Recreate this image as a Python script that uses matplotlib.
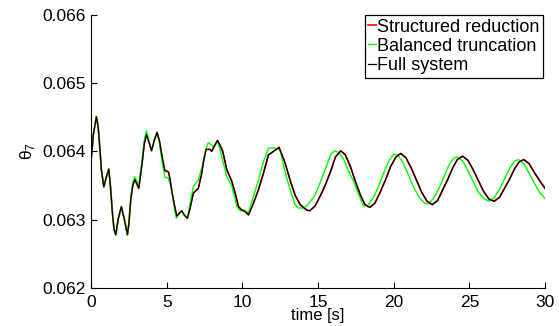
import matplotlib
matplotlib.use('Agg')
import matplotlib.pyplot as plt
from matplotlib.ticker import FormatStrFormatter

# values (time [s], theta_7)
t_full = [0.0, 0.15, 0.35, 0.47, 0.57, 0.68, 0.84, 1.0, 1.17, 1.28, 1.41, 1.52, 1.63, 1.8, 2.0,
          2.2, 2.4, 2.5, 2.62, 2.75, 2.89, 3.15, 3.37, 3.52, 3.66, 3.82, 3.99, 4.2, 4.36, 4.52,
          4.69, 4.87, 5.11, 5.2, 5.35, 5.48, 5.66, 5.85, 5.99, 6.15, 6.36, 6.55, 6.76, 7.09,
          7.31, 7.45, 7.6, 7.86, 7.97, 8.15, 8.35, 8.5, 8.7, 8.97, 9.3, 9.52, 9.74, 9.96, 10.18,
          10.4, 10.73, 11.06, 11.39, 11.72, 12.05, 12.42, 12.82, 13.15, 13.48, 13.81, 14.25,
          14.45, 14.8, 15.15, 15.5, 15.85, 16.15, 16.5, 16.8, 17.15, 17.45, 17.8, 18.1, 18.42,
          18.75, 19.1, 19.45, 19.8, 20.15, 20.46, 20.8, 21.15, 21.5, 21.85, 22.2, 22.55, 22.9,
          23.2, 23.55, 23.9, 24.2, 24.55, 24.9, 25.25, 25.6, 25.95, 26.3, 26.65, 27.0, 27.3,
          27.65, 28.0, 28.3, 28.6, 28.95, 29.3, 29.65, 30.0]
theta_full = [0.06387, 0.06425, 0.06451, 0.06435, 0.06407, 0.06373, 0.06348, 0.06362, 0.06374,
              0.06348, 0.06309, 0.06285, 0.06278, 0.06302, 0.06319, 0.06300, 0.06278, 0.06295,
              0.06329, 0.06350, 0.06359, 0.06346, 0.06383, 0.06412, 0.06425, 0.06414, 0.06401,
              0.06418, 0.06428, 0.06415, 0.06392, 0.06372, 0.06370, 0.06361, 0.06340, 0.06324,
              0.06305, 0.06310, 0.06313, 0.06307, 0.06302, 0.06318, 0.06339, 0.06346, 0.06368,
              0.06388, 0.06403, 0.06403, 0.06400, 0.06408, 0.06416, 0.06410, 0.06400, 0.06373,
              0.06356, 0.06339, 0.06319, 0.06314, 0.06312, 0.06307, 0.06324, 0.06344, 0.06368,
              0.06395, 0.06400, 0.06406, 0.06383, 0.06358, 0.06336, 0.06322, 0.06314, 0.06313,
              0.06320, 0.06335, 0.06352, 0.06372, 0.06392, 0.06401, 0.06395, 0.06377, 0.06357,
              0.06336, 0.06322, 0.06318, 0.06324, 0.06340, 0.06358, 0.06378, 0.06392, 0.06397,
              0.06391, 0.06376, 0.06358, 0.06340, 0.06327, 0.06322, 0.06328, 0.06342, 0.06358,
              0.06376, 0.06388, 0.06393, 0.06387, 0.06373, 0.06357, 0.06341, 0.06330, 0.06327,
              0.06333, 0.06345, 0.06359, 0.06375, 0.06385, 0.06388, 0.06382, 0.06369, 0.06357,
              0.06346]

# the structured reduction lies on top of the full system
t_struct = list(t_full)
theta_struct = list(theta_full)

t_bal = [0.0, 0.15, 0.35, 0.47, 0.57, 0.68, 0.84, 1.0, 1.17, 1.28, 1.41, 1.52, 1.63, 1.8, 2.0,
         2.2, 2.4, 2.5, 2.62, 2.75, 2.89, 3.15, 3.37, 3.52, 3.66, 3.82, 3.99, 4.2, 4.36, 4.52,
         4.69, 4.87, 5.11, 5.33, 5.48, 5.63, 5.8, 5.99, 6.15, 6.36, 6.55, 6.76, 7.09, 7.42,
         7.6, 7.75, 8.08, 8.35, 8.5, 8.63, 8.97, 9.3, 9.52, 9.63, 9.85, 10.1, 10.4, 10.73,
         11.06, 11.39, 11.72, 12.16, 12.49, 12.82, 13.15, 13.48, 13.7, 14.0, 14.25, 14.47, 14.8,
         15.15, 15.5, 15.85, 16.1, 16.4, 16.7, 17.0, 17.35, 17.7, 18.0, 18.3, 18.65, 19.0,
         19.35, 19.7, 20.0, 20.3, 20.65, 21.0, 21.35, 21.7, 22.0, 22.25, 22.6, 22.95, 23.3,
         23.65, 23.95, 24.2, 24.55, 24.9, 25.25, 25.6, 25.95, 26.3, 26.65, 27.0, 27.35, 27.7,
         28.0, 28.25, 28.6, 28.95, 29.3, 29.65, 30.0]
theta_bal = [0.06387, 0.06425, 0.06451, 0.06435, 0.06407, 0.06373, 0.06348, 0.06362, 0.06374,
             0.06348, 0.06309, 0.06285, 0.06277, 0.06302, 0.06319, 0.06300, 0.06277, 0.06296,
             0.06332, 0.06355, 0.06363, 0.06349, 0.06388, 0.06417, 0.06430, 0.06416, 0.06401,
             0.06418, 0.06428, 0.06412, 0.06385, 0.06362, 0.06361, 0.06344, 0.06320, 0.06302,
             0.06308, 0.06313, 0.06306, 0.06302, 0.06325, 0.06349, 0.06358, 0.06385, 0.06405,
             0.06413, 0.06407, 0.06414, 0.06405, 0.06392, 0.06363, 0.06349, 0.06330, 0.06319,
             0.06313, 0.06314, 0.06310, 0.06334, 0.06358, 0.06385, 0.06405, 0.06405, 0.06402,
             0.06370, 0.06344, 0.06322, 0.06317, 0.06317, 0.06320, 0.06326, 0.06336, 0.06355,
             0.06375, 0.06396, 0.06401, 0.06398, 0.06388, 0.06372, 0.06356, 0.06336, 0.06320,
             0.06321, 0.06332, 0.06349, 0.06369, 0.06387, 0.06396, 0.06394, 0.06382, 0.06364,
             0.06346, 0.06332, 0.06325, 0.06323, 0.06330, 0.06344, 0.06362, 0.06380, 0.06390,
             0.06392, 0.06386, 0.06372, 0.06356, 0.06340, 0.06331, 0.06327, 0.06332, 0.06345,
             0.06361, 0.06377, 0.06386, 0.06388, 0.06382, 0.06368, 0.06353, 0.06340, 0.06331]

x_ticks = [0, 5, 10, 15, 20, 25, 30]
y_ticks = [0.062, 0.063, 0.064, 0.065, 0.066]

plt.rcParams['font.family'] = ['Liberation Sans', 'DejaVu Sans']
plt.rcParams['mathtext.fontset'] = 'custom'
plt.rcParams['mathtext.rm'] = 'Liberation Sans'

fig = plt.figure(figsize=(5.59, 3.26), dpi=100)
ax = fig.add_axes([0.163, 0.117, 0.812, 0.837])

ax.plot(t_struct, theta_struct, color='#ff0000', lw=1.2, label='Structured reduction')
ax.plot(t_bal, theta_bal, color='#00ff00', lw=1.0, label='Balanced truncation')
ax.plot(t_full, theta_full, color='black', lw=0.9, label='Full system')

ax.set_xlim(0, 30)
ax.set_ylim(0.062, 0.066)
ax.set_xticks(x_ticks)
ax.set_yticks(y_ticks)
ax.yaxis.set_major_formatter(FormatStrFormatter('%.3f'))
ax.spines['top'].set_visible(False)
ax.spines['right'].set_visible(False)
ax.tick_params(direction='in', length=4, width=0.8, labelsize=12.5)
ax.tick_params(axis='y', pad=4)
ax.tick_params(axis='x', pad=5)

ax.set_xlabel('time [s]', fontsize=12, labelpad=-1)
ax.set_ylabel(r'θ$_{\mathregular{7}}$', fontsize=12.5, labelpad=4)

leg = ax.legend(loc='upper right', bbox_to_anchor=(0.996, 1.0), handlelength=0.45,
                handletextpad=0.05, borderpad=0.2, labelspacing=0.12, borderaxespad=0,
                fancybox=False, framealpha=1, fontsize=13)
leg.get_frame().set_edgecolor('black')
leg.get_frame().set_linewidth(0.9)

fig.savefig('out.png', dpi=100)
